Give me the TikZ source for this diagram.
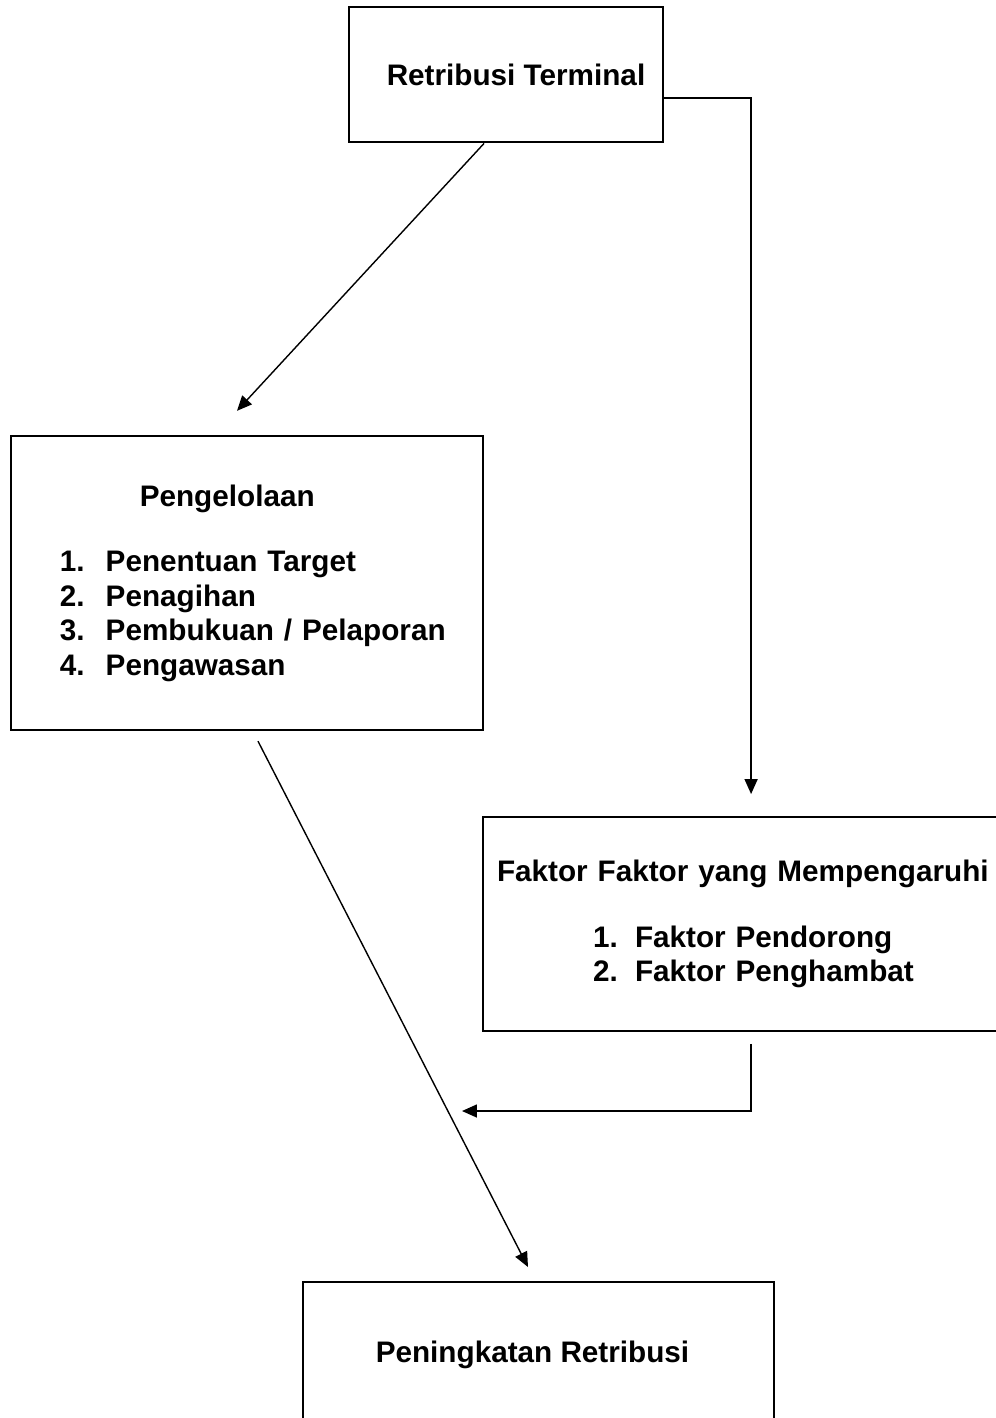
\documentclass[tikz,border=0pt]{standalone}
\usepackage{fontspec}
\setmainfont{Liberation Sans}
\usepackage{tikz}
\usetikzlibrary{positioning, arrows.meta, calc}

\begin{document}
\begin{tikzpicture}[x=0.02cm, y=-0.02cm,
        every node/.style={font=\bfseries\fontsize{16.9}{19.6}\selectfont},
        box/.style={draw, line width=1.1pt, inner sep=0pt},
        listbox/.style={box, align=left, anchor=center},
        arr/.style={-{Triangle[length=8.5pt, width=7.4pt]}, line width=0.8pt}]
      \useasboundingbox (0,0) rectangle (996,1418);
      \node[box, minimum width=6.28cm, minimum height=2.7cm] (rt) at (506,74.5) {\hspace*{0.4cm}Retribusi Terminal};
      \node[listbox, minimum height=5.89cm, inner xsep=0pt, text width=9.45cm] (pg) at (247,583)
        {\hspace*{2.58cm}Pengelolaan\\[0.63cm]
         \hspace*{0.98cm}\makebox[0.92cm][l]{1.}Penentuan Target\\
         \hspace*{0.98cm}\makebox[0.92cm][l]{2.}Penagihan\\
         \hspace*{0.98cm}\makebox[0.92cm][l]{3.}Pembukuan / Pelaporan\\
         \hspace*{0.98cm}\makebox[0.92cm][l]{4.}Pengawasan};
      \node[listbox, minimum height=4.28cm, inner xsep=0pt, text width=10.54cm] (fk) at (746.5,924)
        {\hspace*{0.28cm}Faktor Faktor yang Mempengaruhi\\[0.63cm]
         \hspace*{2.2cm}\makebox[0.84cm][l]{1.}Faktor Pendorong\\
         \hspace*{2.2cm}\makebox[0.84cm][l]{2.}Faktor Penghambat};
      \node[box, minimum width=9.42cm, minimum height=2.92cm] (pk) at (538.5,1355) {Peningkatan Retribusi\hspace*{0.24cm}};
      \coordinate (join) at (462,1111);

      \draw[arr] ([shift={(-22,0.5)}]rt.south) -- ([shift={(-10,-24)}]pg.north);
      \draw[arr] ([shift={(0,23.5)}]rt.east) -| ([shift={(269,-22)}]fk.north west);
      \draw[arr] ([shift={(11,10)}]pg.south) -- ([shift={(-10.5,-14)}]pk.north);
      \draw[arr] ([shift={(269,12)}]fk.south west) |- (join);
\end{tikzpicture}
\end{document}
